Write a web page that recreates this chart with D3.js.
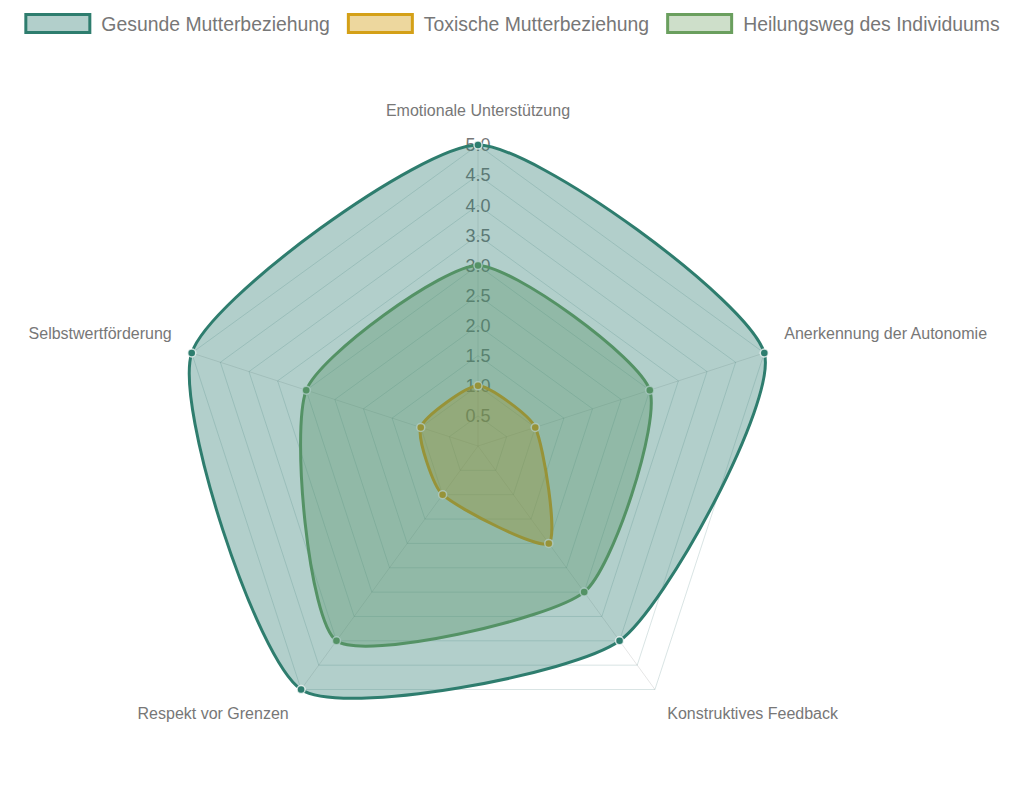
<!DOCTYPE html>
<html>
<head>
<meta charset="utf-8">
<script src="https://cdn.jsdelivr.net/npm/d3@7"></script>
<style>
  body { margin: 0; background: #fff; }
  svg { display: block; font-family: "Liberation Sans", Arial, Helvetica, sans-serif; }
</style>
</head>
<body>
<div id="chart"></div>
<script>
// Daten
const categories = ["Emotionale Unterstützung", "Anerkennung der Autonomie", "Konstruktives Feedback", "Respekt vor Grenzen", "Selbstwertförderung"];
const seriesNames = ["Gesunde Mutterbeziehung", "Toxische Mutterbeziehung", "Heilungsweg des Individuums"];
const gesundeValues = [5, 5, 4, 5, 5];
const toxischeValues = [1, 1, 2, 1, 1];
const heilungValues = [3, 3, 3, 4, 3];
const tickValues = [0.5, 1, 1.5, 2, 2.5, 3, 3.5, 4, 4.5, 5];

const seriesValues = [gesundeValues, toxischeValues, heilungValues];
const seriesColors = [
  { line: "#2e7d6e", fill: "rgba(46,125,114,0.37)", legendFill: "rgba(46,125,114,0.37)" },
  { line: "#d4a017", fill: "rgba(212,160,23,0.4)", legendFill: "rgba(212,160,23,0.42)" },
  { line: "#6a9f5e", fill: "rgba(106,159,94,0.35)", legendFill: "rgba(106,159,94,0.33)" }
];

const width = 1024, height = 812;
const cx = 478, cy = 446, R = 301;
const tension = 0.2;

const svg = d3.select("#chart").append("svg")
  .attr("width", width)
  .attr("height", height);

const r = d3.scaleLinear().domain([0, 5]).range([0, R]);
const angle = d3.scaleLinear().domain([0, categories.length]).range([-Math.PI / 2, 1.5 * Math.PI]);

const pt = (i, v) => [cx + Math.cos(angle(i)) * r(v), cy + Math.sin(angle(i)) * r(v)];

// Gitter
const grid = svg.append("g");
tickValues.forEach(t => {
  grid.append("polygon")
    .attr("points", categories.map((c, i) => pt(i, t).join(",")).join(" "))
    .attr("fill", "none")
    .attr("stroke", "rgba(20,90,90,0.16)")
    .attr("stroke-width", 1);
});
categories.forEach((c, i) => {
  const [x, y] = pt(i, 5);
  grid.append("line")
    .attr("x1", cx).attr("y1", cy)
    .attr("x2", x).attr("y2", y)
    .attr("stroke", "rgba(0,0,0,0.1)")
    .attr("stroke-width", 1);
});

// Tick-Beschriftungen
svg.append("g").selectAll("text")
  .data(tickValues)
  .enter().append("text")
  .attr("x", cx)
  .attr("y", d => cy - r(d))
  .attr("dy", "0.35em")
  .attr("text-anchor", "middle")
  .style("font-size", "18px")
  .style("fill", "#777")
  .text(d => d.toFixed(1));

// Achsenbeschriftungen
svg.append("g").selectAll("text")
  .data(categories)
  .enter().append("text")
  .attr("x", (d, i) => cx + Math.cos(angle(i)) * (R + 21))
  .attr("y", (d, i) => {
    const y = cy + Math.sin(angle(i)) * (R + 21);
    return Math.sin(angle(i)) < 0 ? y - 13.5 : y + 6.5;
  })
  .attr("dy", "0.35em")
  .attr("text-anchor", (d, i) => {
    const c = Math.cos(angle(i));
    return Math.abs(c) < 0.01 ? "middle" : (c > 0 ? "start" : "end");
  })
  .style("font-size", "16px")
  .style("fill", "#777")
  .text(d => d);

// Spline wie in Chart.js
function splinePath(points) {
  const n = points.length;
  const cps = points.map((p, i) => {
    const prev = points[(i - 1 + n) % n], next = points[(i + 1) % n];
    const d01 = Math.hypot(p[0] - prev[0], p[1] - prev[1]);
    const d12 = Math.hypot(next[0] - p[0], next[1] - p[1]);
    const s01 = d01 / (d01 + d12) || 0, s12 = d12 / (d01 + d12) || 0;
    const fa = tension * s01, fb = tension * s12;
    return {
      prev: [p[0] - fa * (next[0] - prev[0]), p[1] - fa * (next[1] - prev[1])],
      next: [p[0] + fb * (next[0] - prev[0]), p[1] + fb * (next[1] - prev[1])]
    };
  });
  const path = d3.path();
  path.moveTo(points[0][0], points[0][1]);
  for (let i = 0; i < n; i++) {
    const j = (i + 1) % n;
    path.bezierCurveTo(cps[i].next[0], cps[i].next[1], cps[j].prev[0], cps[j].prev[1], points[j][0], points[j][1]);
  }
  path.closePath();
  return path.toString();
}

// Datensätze: letzter zuerst, erster oben
for (let s = seriesValues.length - 1; s >= 0; s--) {
  const pts = seriesValues[s].map((v, i) => pt(i, v));
  const g = svg.append("g");
  g.append("path")
    .attr("d", splinePath(pts))
    .attr("fill", seriesColors[s].fill)
    .attr("stroke", seriesColors[s].line)
    .attr("stroke-width", 3)
    .attr("stroke-linejoin", "round");
  g.selectAll("circle")
    .data(pts)
    .enter().append("circle")
    .attr("cx", d => d[0])
    .attr("cy", d => d[1])
    .attr("r", 4)
    .attr("fill", seriesColors[s].line)
    .attr("stroke", "rgba(255,255,255,0.75)")
    .attr("stroke-width", 1.5);
}

// Legende
const legend = svg.append("g");
const boxW = 67, boxH = 21, gapText = 10, gapItem = 17;
const items = seriesNames.map((name, i) => {
  const g = legend.append("g");
  g.append("rect")
    .attr("x", 1.5).attr("y", 14.5)
    .attr("width", boxW - 3).attr("height", boxH - 3)
    .attr("fill", seriesColors[i].legendFill)
    .attr("stroke", seriesColors[i].line)
    .attr("stroke-width", 3);
  const t = g.append("text")
    .attr("x", boxW + gapText)
    .attr("y", 24)
    .attr("dy", "0.35em")
    .style("font-size", "19.4px")
    .style("fill", "#777")
    .text(name);
  return { g, w: boxW + gapText + t.node().getComputedTextLength() };
});
const total = d3.sum(items, d => d.w) + gapItem * (items.length - 1);
let x0 = width / 2 - total / 2;
items.forEach(it => {
  it.g.attr("transform", `translate(${x0},0)`);
  x0 += it.w + gapItem;
});
</script>
</body>
</html>
